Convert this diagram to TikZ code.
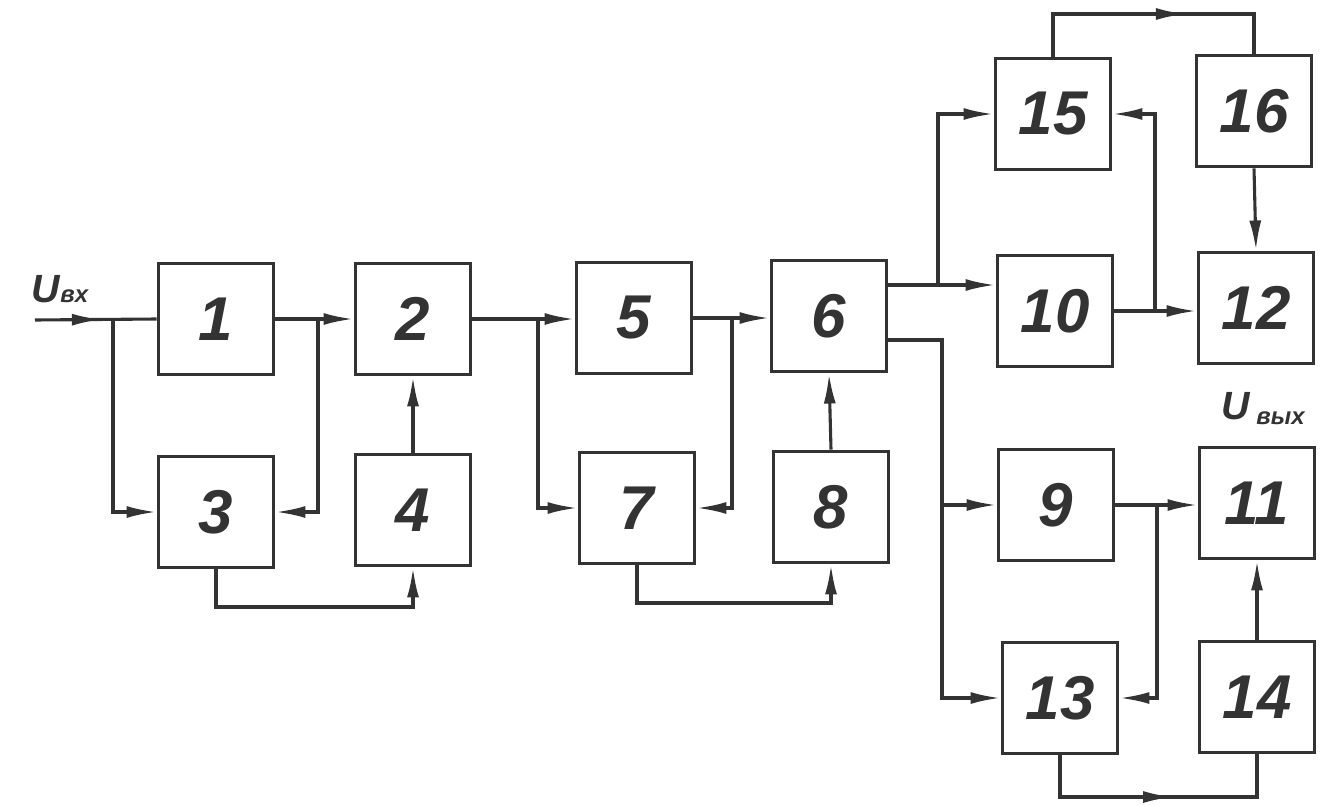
\documentclass[tikz,border=0pt]{standalone}
\usepackage{fontspec}
\setmainfont{Liberation Sans}
\usetikzlibrary{arrows.meta,decorations.markings}
\tikzset{
  blk/.style={draw=black!80, line width=2.8pt, minimum width=28.75mm, minimum height=27.75mm,
    inner sep=0pt, font=\fontsize{44}{44}\selectfont\itshape\bfseries, text=black!80},
  wire/.style={draw=black!80, line width=2.2pt, -{Latex[length=7.5mm,width=3mm]}},
  midarrow/.style={postaction={decorate}, decoration={markings,
    mark=at position #1 with {\arrow{Latex[length=7.5mm,width=3mm]}}}},
  lbl/.style={font=\itshape\bfseries, text=black!80}
}
\begin{document}
\begin{tikzpicture}[x=0.25mm, y=-0.25mm]
\useasboundingbox (0,0) rectangle (1328,805);
\node[blk] (1) at (216,319) {1};
\node[blk] (2) at (413,319) {2};
\node[blk] (3) at (216,512) {3};
\node[blk] (4) at (413,510) {4};
\node[blk] (5) at (634,318) {5};
\node[blk] (7) at (637,508) {7};
\node[blk] (6) at (829,316) {6};
\node[blk] (8) at (831,507) {8};
\node[blk] (15) at (1053,114) {15};
\node[blk] (16) at (1254,111) {16};
\node[blk] (10) at (1055,311) {10};
\node[blk] (12) at (1256,308) {12};
\node[blk] (9) at (1056,505) {9};
\node[blk] (11) at (1257,503) {11};
\node[blk] (13) at (1060,698) {13};
\node[blk] (14) at (1257,697) {14};
\node[lbl] (uin) at (60,289) {\fontsize{28}{28}\selectfont U\fontsize{17}{17}\selectfont вх};
\node[lbl] (uout) at (1263,409) {\fontsize{28}{28}\selectfont U\,\fontsize{17}{17}\selectfont\raisebox{-0.4ex}{вых}};
\coordinate (in) at (35,320);
\coordinate (a) at (113,320);
\coordinate (b) at (318,320);
\coordinate (b34) at (216,607);
\coordinate (c) at (538,319);
\coordinate (d) at (732,318);
\coordinate (b78) at (735,603);
\coordinate (e) at (938,285);
\coordinate (f) at (942,340);
\coordinate (g) at (1155,311);
\coordinate (h) at (1157,505);
\coordinate (t1516) at (1150,14);
\coordinate (b1314) at (1150,797);
\path[draw,wire,-,midarrow=0.55] (in) -- (1.west);
\path[draw,wire] (a) |- (3.west);
\path[draw,wire] (1.east) -- (2.west);
\path[draw,wire] (b) |- (3.east);
\path[draw,wire] (3.south) |- (b34) -| (4.south);
\path[draw,wire] (4.north) -- (2.south);
\path[draw,wire] (2.east) -- (2.east -| 5.west);
\path[draw,wire] (c) |- (7.west);
\path[draw,wire] (5.east) -- (5.east -| 6.west);
\path[draw,wire] (d) |- (7.east);
\path[draw,wire] (7.south) |- (b78) -| (8.south);
\path[draw,wire] (8.north) -- (6.south);
\path[draw,wire] (6.east |- e) -- (10.west |- e);
\path[draw,wire] (e) |- (15.west);
\path[draw,wire] (6.east |- f) -- (f) |- (13.west);
\path[draw,wire] (9.west -| f) -- (9.west);
\path[draw,wire] (10.east) -- (10.east -| 12.west);
\path[draw,wire] (g) |- (15.east);
\path[draw,wire,-,midarrow=0.62] (15.north) |- (t1516) -| (16.north);
\path[draw,wire] (16.south) -- (12.north);
\path[draw,wire] (9.east) -- (9.east -| 11.west);
\path[draw,wire] (h) |- (13.east);
\path[draw,wire] (14.north) -- (11.south);
\path[draw,wire,-,midarrow=0.55] (13.south) |- (b1314) -| (14.south);
\end{tikzpicture}
\end{document}
